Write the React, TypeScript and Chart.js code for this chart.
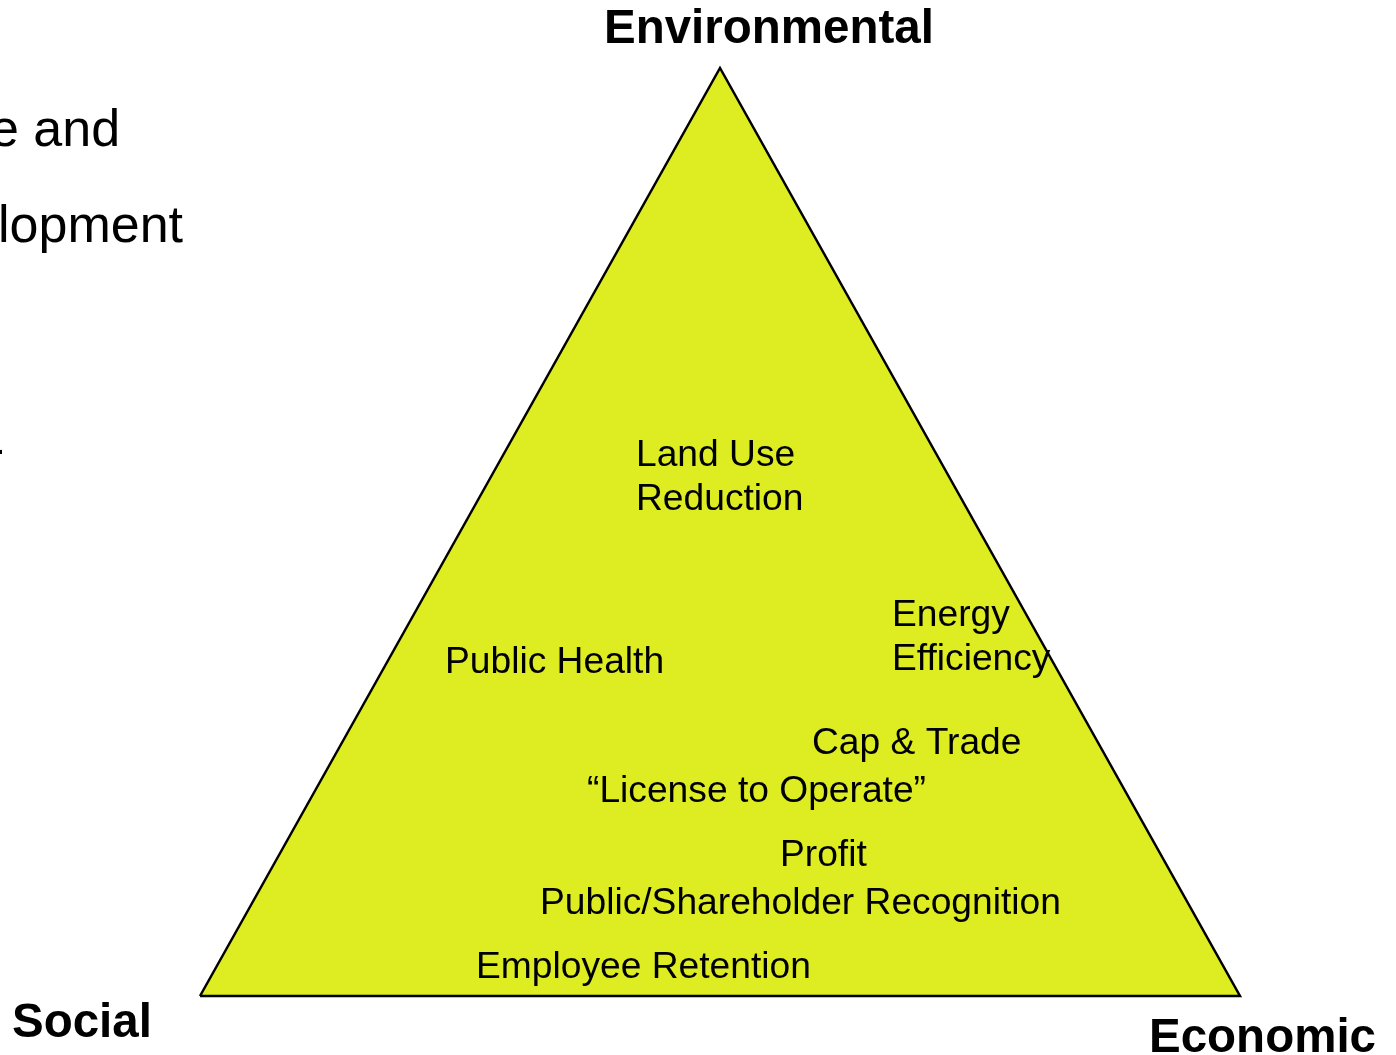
import React, { useEffect, useRef } from "react";
import { Chart, registerables } from "chart.js";

Chart.register(...registerables);

// Triangle vertices in diagram units (x: 0 = Social corner, 100 = Economic corner; y: 0 = base, 100 = apex)
const cornerNames = ["Social", "Environmental", "Economic"];
const cornerX = [0, 50, 100];
const cornerY = [0, 100, 0];

// Inner labels (text lines)
const innerLabels = [
  ["Land Use", "Reduction"],
  ["Public Health"],
  ["Energy", "Efficiency"],
  ["Cap & Trade"],
  ["\u201CLicense to Operate\u201D"],
  ["Profit"],
  ["Public/Shareholder Recognition"],
  ["Employee Retention"],
];

// Cropped slide text on the left
const sideText = ["e and", "lopment", "-"];

// Layout (pixel positions: left x, first baseline y)
const innerPos = [
  [636, 466],
  [445, 673],
  [892, 626],
  [812, 754],
  [587, 802],
  [780, 866],
  [540, 914],
  [476, 978],
];
const cornerPos = [
  [12, 1037],
  [604, 43],
  [1149, 1052],
];
const sidePos = [
  [-10, 146],
  [-2, 242],
  [-13, 466],
];

const W = 1396;
const H = 1055;
// pixel mapping of the diagram units
const X0 = 200, X100 = 1240, Y0 = 996, Y100 = 68;
const xPer = (X100 - X0) / 100;
const yPer = (Y0 - Y100) / 100;

export default function App() {
  const ref = useRef<HTMLCanvasElement | null>(null);
  useEffect(() => {
    if (!ref.current) return;
    const pts = cornerX.map((x, i) => ({ x, y: cornerY[i] }));
    pts.push({ x: cornerX[0], y: cornerY[0] });

    const textPlugin = {
      id: "texts",
      beforeDatasetsDraw(chart: any) {
        // fill the closed triangle through the chart scales
        const ctx = chart.ctx as CanvasRenderingContext2D;
        const xs = chart.scales.x;
        const ys = chart.scales.y;
        ctx.save();
        ctx.beginPath();
        pts.forEach((p, i) => {
          const px = xs.getPixelForValue(p.x);
          const py = ys.getPixelForValue(p.y);
          if (i === 0) ctx.moveTo(px, py);
          else ctx.lineTo(px, py);
        });
        ctx.closePath();
        ctx.fillStyle = "rgb(222,236,34)";
        ctx.fill();
        ctx.restore();
      },
      afterDatasetsDraw(chart: any) {
        const ctx = chart.ctx as CanvasRenderingContext2D;
        ctx.save();
        ctx.fillStyle = "#000";
        ctx.textAlign = "left";
        ctx.textBaseline = "alphabetic";
        ctx.font = "37.2px 'Liberation Sans', Arial, sans-serif";
        innerLabels.forEach((lines, i) => {
          lines.forEach((t, j) => {
            ctx.fillText(t, innerPos[i][0], innerPos[i][1] + j * 44);
          });
        });
        ctx.font = "bold 47.5px 'Liberation Sans', Arial, sans-serif";
        cornerNames.forEach((t, i) => {
          ctx.fillText(t, cornerPos[i][0], cornerPos[i][1]);
        });
        ctx.font = "52px 'Liberation Sans', Arial, sans-serif";
        sideText.forEach((t, i) => {
          ctx.fillText(t, sidePos[i][0], sidePos[i][1]);
        });
        ctx.restore();
      },
    };

    const chart = new Chart(ref.current, {
      type: "scatter",
      data: {
        datasets: [
          {
            data: pts,
            showLine: true,
            fill: false,
            backgroundColor: "rgb(222,236,34)",
            borderColor: "#000",
            borderWidth: 2.5,
            borderJoinStyle: "miter",
            pointRadius: 0,
            tension: 0,
          } as any,
        ],
      },
      options: {
        responsive: false,
        animation: false,
        devicePixelRatio: 1,
        layout: { padding: 0 },
        plugins: { legend: { display: false }, tooltip: { enabled: false } },
        scales: {
          x: {
            type: "linear",
            display: false,
            min: -X0 / xPer,
            max: (W - X0) / xPer,
          },
          y: {
            type: "linear",
            display: false,
            min: -(H - Y0) / yPer,
            max: 100 + Y100 / yPer,
          },
        },
      },
      plugins: [textPlugin],
    });
    return () => chart.destroy();
  }, []);

  return (
    <div style={{ position: "absolute", left: 0, top: 0, width: W, height: H, background: "#fff" }}>
      <canvas ref={ref} width={W} height={H} style={{ display: "block" }} />
    </div>
  );
}
